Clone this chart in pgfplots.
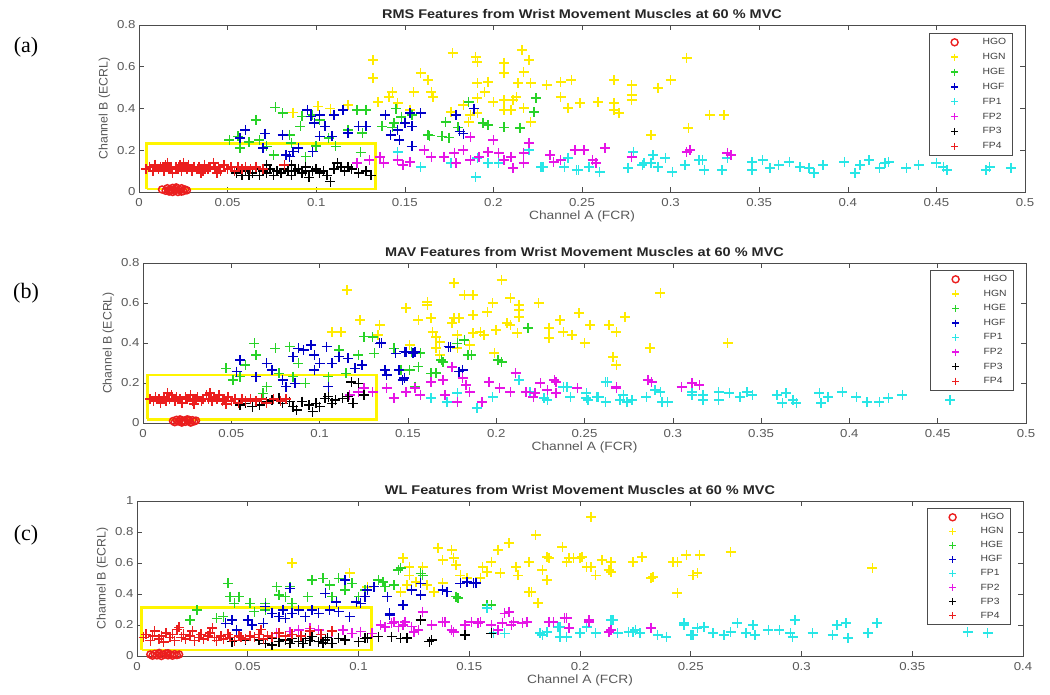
\documentclass[border=0pt]{standalone}
\usepackage{pgfplots}
\pgfplotsset{compat=1.18}
\usepackage{fontspec}
\setmainfont[FakeStretch=1.15]{Liberation Sans}
\newfontfamily\plain{Liberation Sans}
\newfontfamily\serif{Liberation Serif}
\definecolor{cY}{RGB}{255,235,0}
\definecolor{cG}{RGB}{40,210,40}
\definecolor{cB}{RGB}{0,0,200}
\definecolor{cC}{RGB}{40,230,230}
\definecolor{cM}{RGB}{230,20,230}
\definecolor{cR}{RGB}{235,30,30}
\definecolor{cK}{RGB}{0,0,0}
\definecolor{cBox}{RGB}{255,245,0}
\pgfplotsset{
  lg/.style={legend image code/.code={\path[draw=none,fill=none] (0pt,-3pt) (46.6pt,3pt);\draw[mark repeat=2,mark phase=2,##1,mark size=3.5pt,line width=1.4pt] plot coordinates {(0pt,0pt)(20.6pt,0pt)(46.6pt,0pt)};}},
  mk/.style={only marks, mark=+, mark size=5pt, line width=1.5pt, color=#1, lg},
  mo/.style={only marks, mark=o, mark size=3.5pt, line width=1.5pt, color=cR, lg},
  bx/.style={draw=cBox, line width=2.6pt, mark=none, forget plot, line join=miter},
  myax/.style={
    scale only axis, clip=false,
    every axis plot post/.append style={lg},
    axis line style={black!70, line width=0.7pt},
    tick style={black!70, line width=0.6pt},
    tick align=inside, major tick length=5pt,
    xtick pos=both, ytick pos=both,
    /pgf/number format/assume math mode=true,
    tick label style={font=\fontsize{11.5}{12}\selectfont, text=black!65},
    xticklabel style={yshift=-3pt},
    xlabel style={font=\fontsize{12}{13}\selectfont, text=black!65, yshift=3pt},
    ylabel style={font=\plain\fontsize{12.3}{13}\selectfont, text=black!65},
    xlabel={Channel A (FCR)}, ylabel={Channel B (ECRL)},
    title style={font=\bfseries\fontsize{12.6}{14}\selectfont, text=black!85, yshift=-3pt},
    legend style={font=\fontsize{9}{10}\selectfont, draw=black!70, line width=0.8pt,
      at={(1,1)}, anchor=north east, xshift=-12pt, yshift=-8pt, text=black!75,
      row sep=3.1pt, inner xsep=4.4pt, inner ysep=3pt},
    legend cell align=left,
  },
}
\begin{document}
\begin{tikzpicture}
\useasboundingbox (0pt,0pt) rectangle (1050pt,-695pt);
\node[font=\serif\fontsize{22}{24}\selectfont] at (26pt,-47pt) {(a)};
\node[font=\serif\fontsize{22}{24}\selectfont] at (26pt,-293pt) {(b)};
\node[font=\serif\fontsize{22}{24}\selectfont] at (26pt,-535pt) {(c)};
% ---------------- (a) ----------------
\begin{axis}[myax, at={(139pt,-192pt)}, width=886pt, height=167pt,
  xmin=0, xmax=0.5, ymin=0, ymax=0.8,
  xtick={0,0.05,0.1,0.15,0.2,0.25,0.3,0.35,0.4,0.45,0.5},
  xticklabels={0,0.05,0.1,0.15,0.2,0.25,0.3,0.35,0.4,0.45,0.5},
  ytick={0,0.2,0.4,0.6,0.8}, yticklabels={0,0.2,0.4,0.6,0.8},
  title={RMS Features from Wrist Movement Muscles at 60 \% MVC}]
\addplot[mo] coordinates {(0.013,0.012)(0.015,0.006)(0.016,0.018)(0.017,0.002)(0.018,0.012)(0.019,0.020)(0.020,0.006)(0.021,0.014)(0.022,0.000)(0.023,0.010)(0.024,0.018)(0.025,0.004)(0.026,0.012)(0.027,0.008)(0.019,0.000)(0.021,0.022)(0.024,0.002)(0.017,0.010)};
\addplot[mk=cY] coordinates {(0.132,0.632)(0.132,0.546)(0.177,0.666)(0.190,0.647)(0.191,0.623)(0.216,0.68)(0.220,0.632)(0.206,0.618)(0.159,0.57)(0.163,0.536)(0.155,0.479)(0.143,0.479)(0.141,0.455)(0.135,0.431)(0.165,0.479)(0.166,0.455)(0.206,0.57)(0.217,0.575)(0.197,0.527)(0.191,0.522)(0.214,0.522)(0.221,0.522)(0.230,0.512)(0.238,0.527)(0.244,0.536)(0.195,0.479)(0.191,0.45)(0.200,0.431)(0.206,0.44)(0.211,0.44)(0.213,0.455)(0.206,0.393)(0.210,0.393)(0.217,0.402)(0.221,0.335)(0.191,0.378)(0.187,0.369)(0.183,0.417)(0.176,0.383)(0.186,0.335)(0.238,0.455)(0.242,0.402)(0.249,0.426)(0.259,0.431)(0.268,0.536)(0.278,0.512)(0.278,0.465)(0.278,0.44)(0.268,0.426)(0.268,0.393)(0.271,0.378)(0.289,0.273)(0.293,0.498)(0.300,0.536)(0.309,0.642)(0.310,0.307)(0.322,0.369)(0.330,0.369)(0.118,0.417)(0.153,0.393)(0.146,0.426)(0.101,0.41)(0.087,0.38)(0.108,0.40)};
\addplot[mk=cG] coordinates {(0.051,0.25)(0.056,0.266)(0.057,0.21)(0.066,0.346)(0.072,0.218)(0.076,0.178)(0.077,0.406)(0.081,0.378)(0.085,0.274)(0.086,0.234)(0.091,0.314)(0.092,0.362)(0.094,0.17)(0.098,0.37)(0.102,0.346)(0.107,0.258)(0.111,0.218)(0.115,0.394)(0.118,0.298)(0.123,0.394)(0.125,0.19)(0.126,0.282)(0.128,0.394)(0.137,0.314)(0.143,0.31)(0.144,0.33)(0.145,0.40)(0.148,0.36)(0.154,0.37)(0.163,0.274)(0.164,0.27)(0.171,0.266)(0.173,0.335)(0.175,0.26)(0.18,0.31)(0.186,0.43)(0.194,0.33)(0.197,0.32)(0.206,0.31)(0.215,0.307)(0.223,0.383)(0.224,0.45)(0.062,0.24)(0.068,0.25)(0.10,0.22)};
\addplot[mk=cB] coordinates {(0.060,0.298)(0.057,0.258)(0.070,0.21)(0.071,0.28)(0.081,0.274)(0.083,0.178)(0.087,0.194)(0.090,0.21)(0.095,0.394)(0.097,0.362)(0.099,0.33)(0.102,0.37)(0.105,0.314)(0.110,0.37)(0.115,0.394)(0.102,0.266)(0.109,0.266)(0.118,0.282)(0.124,0.314)(0.128,0.314)(0.139,0.37)(0.142,0.274)(0.146,0.298)(0.150,0.33)(0.154,0.314)(0.153,0.378)(0.159,0.378)(0.154,0.218)(0.147,0.25)(0.179,0.37)(0.181,0.29)(0.189,0.40)(0.098,0.194)(0.085,0.17)(0.183,0.28)};
\addplot[mk=cC] coordinates {(0.146,0.192)(0.159,0.12)(0.176,0.139)(0.190,0.072)(0.191,0.163)(0.197,0.139)(0.203,0.139)(0.220,0.201)(0.227,0.12)(0.242,0.163)(0.248,0.105)(0.260,0.096)(0.279,0.192)(0.285,0.139)(0.290,0.177)(0.297,0.163)(0.308,0.129)(0.318,0.153)(0.228,0.12)(0.240,0.12)(0.247,0.105)(0.254,0.12)(0.276,0.115)(0.284,0.129)(0.289,0.139)(0.293,0.12)(0.301,0.096)(0.316,0.153)(0.319,0.105)(0.329,0.105)(0.332,0.163)(0.346,0.144)(0.346,0.105)(0.352,0.153)(0.356,0.115)(0.361,0.129)(0.367,0.144)(0.373,0.12)(0.378,0.115)(0.381,0.091)(0.386,0.129)(0.398,0.144)(0.404,0.091)(0.407,0.129)(0.412,0.153)(0.418,0.115)(0.421,0.139)(0.423,0.144)(0.433,0.115)(0.440,0.129)(0.450,0.139)(0.454,0.12)(0.456,0.105)(0.478,0.105)(0.480,0.12)(0.492,0.115)};
\addplot[mk=cM] coordinates {(0.130,0.153)(0.136,0.168)(0.138,0.139)(0.146,0.153)(0.149,0.129)(0.153,0.144)(0.161,0.201)(0.165,0.168)(0.172,0.168)(0.178,0.187)(0.179,0.139)(0.183,0.201)(0.187,0.263)(0.187,0.153)(0.192,0.168)(0.197,0.192)(0.200,0.249)(0.203,0.187)(0.206,0.153)(0.210,0.168)(0.211,0.115)(0.217,0.187)(0.220,0.235)(0.217,0.139)(0.232,0.177)(0.234,0.144)(0.238,0.153)(0.246,0.201)(0.251,0.201)(0.256,0.153)(0.258,0.139)(0.263,0.211)(0.278,0.168)(0.311,0.201)(0.123,0.139)(0.332,0.187)(0.334,0.177)(0.309,0.192)};
\addplot[mk=cK] coordinates {(0.055,0.09)(0.058,0.08)(0.060,0.10)(0.062,0.08)(0.064,0.09)(0.066,0.11)(0.068,0.08)(0.070,0.10)(0.072,0.09)(0.074,0.11)(0.076,0.08)(0.078,0.10)(0.080,0.09)(0.082,0.11)(0.084,0.10)(0.086,0.08)(0.088,0.10)(0.090,0.11)(0.092,0.09)(0.094,0.10)(0.096,0.07)(0.098,0.10)(0.100,0.11)(0.102,0.09)(0.104,0.10)(0.106,0.08)(0.108,0.05)(0.110,0.11)(0.112,0.14)(0.114,0.12)(0.116,0.10)(0.118,0.12)(0.120,0.11)(0.124,0.09)(0.128,0.10)(0.131,0.08)(0.072,0.13)(0.086,0.13)(0.094,0.12)};
\addplot[mk=cR] coordinates {(0.004,0.11)(0.006,0.12)(0.008,0.10)(0.009,0.13)(0.011,0.11)(0.012,0.12)(0.014,0.10)(0.015,0.13)(0.017,0.11)(0.018,0.12)(0.019,0.09)(0.021,0.12)(0.022,0.11)(0.023,0.13)(0.024,0.10)(0.026,0.12)(0.027,0.11)(0.028,0.13)(0.030,0.10)(0.031,0.12)(0.033,0.11)(0.034,0.12)(0.036,0.10)(0.037,0.13)(0.039,0.11)(0.040,0.12)(0.042,0.14)(0.043,0.11)(0.045,0.12)(0.046,0.10)(0.048,0.13)(0.050,0.11)(0.052,0.12)(0.054,0.10)(0.056,0.12)(0.058,0.11)(0.060,0.12)(0.063,0.11)(0.066,0.12)(0.070,0.11)(0.082,0.13)(0.016,0.14)(0.025,0.14)(0.035,0.09)(0.044,0.09)};
\addplot[bx] coordinates {(0.0044,0.014)(0.1334,0.014)(0.1334,0.232)(0.0044,0.232)(0.0044,0.014)};
\legend{HGO,HGN,HGE,HGF,FP1,FP2,FP3,FP4}
\end{axis}
% ---------------- (b) ----------------
\begin{axis}[myax, at={(143pt,-423pt)}, width=883pt, height=160pt,
  xmin=0, xmax=0.5, ymin=0, ymax=0.8,
  legend style={yshift=1pt, row sep=2.8pt},
  xtick={0,0.05,0.1,0.15,0.2,0.25,0.3,0.35,0.4,0.45,0.5},
  xticklabels={0,0.05,0.1,0.15,0.2,0.25,0.3,0.35,0.4,0.45,0.5},
  ytick={0,0.2,0.4,0.6,0.8}, yticklabels={0,0.2,0.4,0.6,0.8},
  title={MAV Features from Wrist Movement Muscles at 60 \% MVC}]
\addplot[mo] coordinates {(0.017,0.010)(0.018,0.004)(0.019,0.016)(0.020,0.008)(0.021,0.018)(0.022,0.002)(0.023,0.012)(0.024,0.006)(0.025,0.018)(0.026,0.010)(0.027,0.002)(0.028,0.014)(0.029,0.008)(0.030,0.012)(0.022,0.010)(0.026,0.016)};
\addplot[mk=cY] coordinates {(0.1155,0.665)(0.176,0.70)(0.203,0.715)(0.182,0.64)(0.187,0.64)(0.208,0.625)(0.198,0.60)(0.213,0.59)(0.213,0.565)(0.213,0.53)(0.224,0.60)(0.161,0.59)(0.161,0.605)(0.149,0.575)(0.156,0.515)(0.163,0.525)(0.176,0.525)(0.179,0.525)(0.187,0.54)(0.175,0.50)(0.195,0.555)(0.206,0.50)(0.208,0.49)(0.200,0.465)(0.191,0.455)(0.187,0.45)(0.193,0.44)(0.212,0.45)(0.164,0.455)(0.166,0.43)(0.168,0.405)(0.166,0.375)(0.168,0.34)(0.178,0.44)(0.178,0.375)(0.185,0.39)(0.199,0.35)(0.134,0.49)(0.133,0.44)(0.123,0.515)(0.112,0.455)(0.107,0.455)(0.151,0.39)(0.230,0.475)(0.236,0.515)(0.238,0.455)(0.243,0.44)(0.230,0.425)(0.247,0.55)(0.253,0.49)(0.250,0.40)(0.264,0.49)(0.268,0.455)(0.273,0.53)(0.266,0.33)(0.268,0.29)(0.287,0.375)(0.293,0.65)(0.331,0.40)};
\addplot[mk=cG] coordinates {(0.047,0.273)(0.051,0.215)(0.055,0.232)(0.058,0.29)(0.063,0.398)(0.064,0.34)(0.068,0.148)(0.075,0.373)(0.083,0.382)(0.077,0.248)(0.070,0.182)(0.088,0.298)(0.085,0.232)(0.092,0.198)(0.105,0.232)(0.111,0.365)(0.115,0.248)(0.122,0.34)(0.125,0.432)(0.131,0.348)(0.135,0.398)(0.142,0.373)(0.146,0.265)(0.152,0.357)(0.169,0.315)(0.178,0.398)(0.182,0.415)(0.184,0.34)(0.201,0.315)(0.163,0.248)(0.156,0.282)(0.154,0.182)(0.130,0.43)(0.186,0.34)(0.203,0.305)(0.218,0.475)(0.170,0.305)(0.166,0.25)(0.151,0.265)(0.157,0.35)};
\addplot[mk=cB] coordinates {(0.055,0.315)(0.053,0.257)(0.064,0.232)(0.070,0.298)(0.073,0.265)(0.079,0.215)(0.081,0.182)(0.085,0.332)(0.088,0.373)(0.091,0.365)(0.095,0.39)(0.097,0.34)(0.100,0.298)(0.104,0.382)(0.105,0.182)(0.107,0.298)(0.111,0.332)(0.116,0.323)(0.120,0.273)(0.124,0.29)(0.134,0.398)(0.137,0.265)(0.138,0.24)(0.145,0.265)(0.147,0.215)(0.143,0.348)(0.148,0.357)(0.153,0.348)(0.173,0.382)(0.179,0.257)(0.086,0.198)(0.097,0.265)(0.135,0.40)(0.149,0.355)(0.154,0.355)(0.174,0.38)(0.181,0.265)(0.148,0.225)};
\addplot[mk=cC] coordinates {(0.221,0.13)(0.229,0.115)(0.240,0.18)(0.242,0.13)(0.251,0.15)(0.252,0.115)(0.258,0.13)(0.262,0.105)(0.262,0.205)(0.270,0.115)(0.274,0.105)(0.285,0.13)(0.290,0.165)(0.294,0.105)(0.297,0.105)(0.311,0.14)(0.317,0.115)(0.326,0.155)(0.326,0.115)(0.332,0.15)(0.338,0.13)(0.342,0.155)(0.345,0.14)(0.359,0.14)(0.364,0.15)(0.362,0.10)(0.368,0.115)(0.370,0.10)(0.383,0.15)(0.384,0.10)(0.388,0.13)(0.396,0.155)(0.404,0.13)(0.410,0.105)(0.417,0.105)(0.422,0.125)(0.430,0.14)(0.457,0.115)(0.213,0.215)(0.189,0.075)(0.163,0.125)(0.172,0.105)(0.178,0.15)(0.198,0.13)(0.219,0.155)(0.227,0.125)(0.238,0.18)(0.263,0.205)(0.251,0.125)(0.257,0.13)(0.272,0.14)(0.277,0.115)(0.293,0.155)(0.311,0.155)(0.317,0.14)};
\addplot[mk=cM] coordinates {(0.117,0.14)(0.125,0.175)(0.130,0.155)(0.138,0.175)(0.142,0.125)(0.149,0.155)(0.154,0.175)(0.157,0.14)(0.163,0.205)(0.170,0.215)(0.171,0.14)(0.175,0.28)(0.178,0.105)(0.181,0.225)(0.183,0.19)(0.185,0.155)(0.192,0.105)(0.196,0.205)(0.202,0.175)(0.208,0.155)(0.211,0.25)(0.217,0.155)(0.221,0.13)(0.225,0.20)(0.229,0.165)(0.234,0.205)(0.246,0.175)(0.268,0.175)(0.288,0.205)(0.305,0.18)(0.311,0.20)(0.315,0.19)(0.122,0.155)(0.222,0.15)(0.233,0.215)(0.234,0.15)(0.268,0.18)(0.286,0.215)};
\addplot[mk=cK] coordinates {(0.055,0.09)(0.062,0.082)(0.070,0.107)(0.073,0.115)(0.079,0.098)(0.085,0.082)(0.087,0.065)(0.094,0.09)(0.096,0.057)(0.100,0.082)(0.103,0.123)(0.105,0.132)(0.109,0.115)(0.116,0.132)(0.119,0.098)(0.122,0.198)(0.125,0.14)(0.058,0.098)(0.066,0.09)(0.077,0.123)(0.083,0.107)(0.090,0.107)(0.098,0.098)(0.107,0.098)(0.113,0.123)(0.118,0.205)};
\addplot[mk=cR] coordinates {(0.004,0.12)(0.006,0.11)(0.007,0.13)(0.009,0.12)(0.010,0.10)(0.012,0.13)(0.013,0.11)(0.015,0.12)(0.016,0.14)(0.018,0.11)(0.019,0.13)(0.021,0.12)(0.022,0.10)(0.024,0.13)(0.025,0.12)(0.027,0.14)(0.028,0.11)(0.030,0.12)(0.031,0.13)(0.033,0.11)(0.034,0.12)(0.036,0.14)(0.037,0.12)(0.039,0.11)(0.040,0.13)(0.042,0.12)(0.043,0.14)(0.045,0.11)(0.046,0.12)(0.048,0.13)(0.050,0.11)(0.052,0.12)(0.054,0.10)(0.056,0.12)(0.058,0.11)(0.061,0.12)(0.064,0.11)(0.067,0.12)(0.070,0.10)(0.074,0.12)(0.078,0.11)(0.081,0.12)(0.014,0.15)(0.029,0.095)(0.038,0.15)(0.047,0.095)};
\addplot[bx] coordinates {(0.0024,0.018)(0.1323,0.018)(0.1323,0.24)(0.0024,0.24)(0.0024,0.018)};
\legend{HGO,HGN,HGE,HGF,FP1,FP2,FP3,FP4}
\end{axis}
% ---------------- (c) ----------------
\begin{axis}[myax, at={(137pt,-656pt)}, width=886pt, height=155pt,
  xmin=0, xmax=0.4, ymin=0, ymax=1,
  legend style={yshift=1pt, row sep=2.3pt},
  xtick={0,0.05,0.1,0.15,0.2,0.25,0.3,0.35,0.4},
  xticklabels={0,0.05,0.1,0.15,0.2,0.25,0.3,0.35,0.4},
  ytick={0,0.2,0.4,0.6,0.8,1}, yticklabels={0,0.2,0.4,0.6,0.8,1},
  title={WL Features from Wrist Movement Muscles at 60 \% MVC}]
\addplot[mo] coordinates {(0.006,0.010)(0.007,0.002)(0.008,0.014)(0.009,0.004)(0.010,0.012)(0.011,0.000)(0.012,0.008)(0.013,0.016)(0.014,0.004)(0.015,0.010)(0.016,0.002)(0.017,0.012)(0.018,0.006)(0.019,0.010)(0.010,0.020)(0.014,0.018)};
\addplot[mk=cY] coordinates {(0.120,0.632)(0.123,0.574)(0.129,0.574)(0.136,0.697)(0.142,0.684)(0.138,0.619)(0.143,0.632)(0.144,0.587)(0.146,0.52)(0.123,0.52)(0.119,0.413)(0.122,0.458)(0.126,0.477)(0.131,0.458)(0.134,0.413)(0.138,0.471)(0.149,0.503)(0.155,0.503)(0.156,0.574)(0.160,0.606)(0.163,0.684)(0.168,0.729)(0.164,0.535)(0.171,0.574)(0.172,0.52)(0.177,0.606)(0.180,0.78)(0.185,0.639)(0.185,0.49)(0.177,0.413)(0.181,0.342)(0.192,0.703)(0.194,0.606)(0.197,0.632)(0.201,0.639)(0.205,0.574)(0.207,0.52)(0.205,0.897)(0.210,0.619)(0.214,0.606)(0.214,0.542)(0.224,0.606)(0.228,0.639)(0.233,0.51)(0.244,0.606)(0.248,0.652)(0.244,0.406)(0.253,0.535)(0.096,0.535)(0.104,0.445)(0.158,0.542)(0.186,0.632)(0.195,0.632)(0.200,0.632)(0.203,0.574)(0.213,0.555)(0.232,0.503)(0.242,0.606)(0.254,0.652)(0.251,0.52)(0.268,0.671)(0.332,0.568)(0.183,0.555)(0.178,0.413)(0.070,0.60)};
\addplot[mk=cG] coordinates {(0.024,0.232)(0.027,0.297)(0.036,0.243)(0.039,0.254)(0.041,0.469)(0.042,0.383)(0.046,0.383)(0.044,0.34)(0.051,0.34)(0.053,0.286)(0.058,0.34)(0.063,0.447)(0.064,0.394)(0.067,0.383)(0.070,0.34)(0.073,0.297)(0.079,0.49)(0.084,0.501)(0.087,0.458)(0.091,0.501)(0.094,0.426)(0.097,0.469)(0.100,0.383)(0.103,0.426)(0.109,0.49)(0.112,0.447)(0.118,0.555)(0.128,0.533)(0.144,0.383)(0.158,0.329)(0.058,0.297)(0.069,0.447)(0.077,0.383)(0.088,0.383)(0.119,0.568)(0.129,0.52)(0.111,0.477)(0.116,0.458)(0.145,0.374)(0.160,0.329)};
\addplot[mk=cB] coordinates {(0.040,0.211)(0.043,0.232)(0.045,0.168)(0.050,0.232)(0.052,0.20)(0.057,0.211)(0.058,0.318)(0.061,0.275)(0.064,0.254)(0.066,0.297)(0.067,0.243)(0.069,0.437)(0.070,0.275)(0.073,0.297)(0.076,0.254)(0.079,0.297)(0.082,0.275)(0.085,0.404)(0.087,0.297)(0.090,0.35)(0.091,0.286)(0.094,0.49)(0.096,0.254)(0.099,0.35)(0.101,0.34)(0.103,0.383)(0.104,0.426)(0.107,0.447)(0.113,0.383)(0.114,0.275)(0.120,0.329)(0.124,0.426)(0.128,0.469)(0.128,0.394)(0.138,0.426)(0.140,0.415)(0.146,0.469)(0.152,0.469)(0.149,0.477)(0.153,0.47)(0.114,0.265)};
\addplot[mk=cC] coordinates {(0.183,0.135)(0.190,0.187)(0.191,0.123)(0.194,0.123)(0.200,0.148)(0.207,0.148)(0.214,0.232)(0.217,0.148)(0.222,0.155)(0.225,0.168)(0.227,0.148)(0.235,0.135)(0.239,0.123)(0.247,0.20)(0.250,0.135)(0.253,0.181)(0.256,0.187)(0.260,0.148)(0.265,0.135)(0.268,0.155)(0.271,0.213)(0.275,0.148)(0.278,0.20)(0.279,0.135)(0.285,0.168)(0.290,0.168)(0.295,0.148)(0.297,0.232)(0.296,0.123)(0.305,0.148)(0.314,0.135)(0.316,0.20)(0.320,0.213)(0.321,0.116)(0.330,0.148)(0.334,0.213)(0.375,0.155)(0.384,0.148)(0.158,0.31)(0.161,0.148)(0.182,0.148)(0.185,0.155)(0.191,0.187)(0.203,0.187)(0.215,0.232)(0.224,0.155)(0.247,0.213)(0.251,0.135)(0.166,0.146)};
\addplot[mk=cM] coordinates {(0.063,0.146)(0.069,0.157)(0.073,0.168)(0.078,0.178)(0.082,0.168)(0.088,0.157)(0.093,0.168)(0.097,0.146)(0.101,0.157)(0.106,0.146)(0.110,0.20)(0.115,0.21)(0.118,0.19)(0.121,0.22)(0.124,0.19)(0.127,0.168)(0.133,0.20)(0.139,0.22)(0.142,0.168)(0.148,0.20)(0.151,0.22)(0.154,0.21)(0.160,0.20)(0.166,0.275)(0.169,0.20)(0.163,0.168)(0.129,0.284)(0.138,0.219)(0.143,0.155)(0.155,0.219)(0.165,0.213)(0.168,0.284)(0.170,0.219)(0.174,0.213)(0.188,0.219)(0.194,0.245)(0.195,0.181)(0.204,0.232)(0.214,0.168)(0.232,0.181)(0.116,0.219)(0.120,0.20)(0.112,0.187)(0.125,0.155)(0.176,0.22)(0.186,0.22)(0.193,0.245)(0.204,0.22)(0.213,0.155)};
\addplot[mk=cK] coordinates {(0.043,0.092)(0.049,0.103)(0.055,0.103)(0.058,0.082)(0.061,0.114)(0.064,0.092)(0.067,0.103)(0.070,0.114)(0.073,0.092)(0.076,0.114)(0.079,0.125)(0.082,0.092)(0.085,0.103)(0.088,0.082)(0.091,0.114)(0.094,0.103)(0.100,0.092)(0.103,0.114)(0.109,0.125)(0.115,0.125)(0.119,0.114)(0.128,0.232)(0.132,0.092)(0.148,0.135)(0.160,0.146)(0.061,0.071)(0.069,0.082)(0.075,0.082)(0.122,0.116)(0.104,0.116)(0.133,0.103)(0.078,0.100)(0.084,0.085)(0.086,0.118)};
\addplot[mk=cR] coordinates {(0.003,0.12)(0.004,0.14)(0.006,0.10)(0.007,0.13)(0.008,0.16)(0.010,0.11)(0.011,0.13)(0.012,0.09)(0.013,0.15)(0.015,0.12)(0.016,0.14)(0.017,0.10)(0.018,0.17)(0.020,0.12)(0.021,0.14)(0.022,0.11)(0.024,0.13)(0.025,0.16)(0.026,0.10)(0.028,0.12)(0.029,0.14)(0.030,0.11)(0.032,0.13)(0.033,0.15)(0.035,0.12)(0.036,0.10)(0.038,0.13)(0.039,0.11)(0.041,0.14)(0.042,0.12)(0.044,0.10)(0.046,0.13)(0.047,0.12)(0.049,0.11)(0.051,0.13)(0.053,0.12)(0.055,0.14)(0.057,0.11)(0.059,0.13)(0.061,0.12)(0.064,0.15)(0.067,0.13)(0.070,0.14)(0.074,0.13)(0.078,0.16)(0.083,0.14)(0.088,0.16)(0.019,0.185)(0.034,0.18)(0.056,0.17)};
\addplot[bx] coordinates {(0.0021,0.039)(0.106,0.039)(0.106,0.314)(0.0021,0.314)(0.0021,0.039)};
\legend{HGO,HGN,HGE,HGF,FP1,FP2,FP3,FP4}
\end{axis}
\end{tikzpicture}
\end{document}
